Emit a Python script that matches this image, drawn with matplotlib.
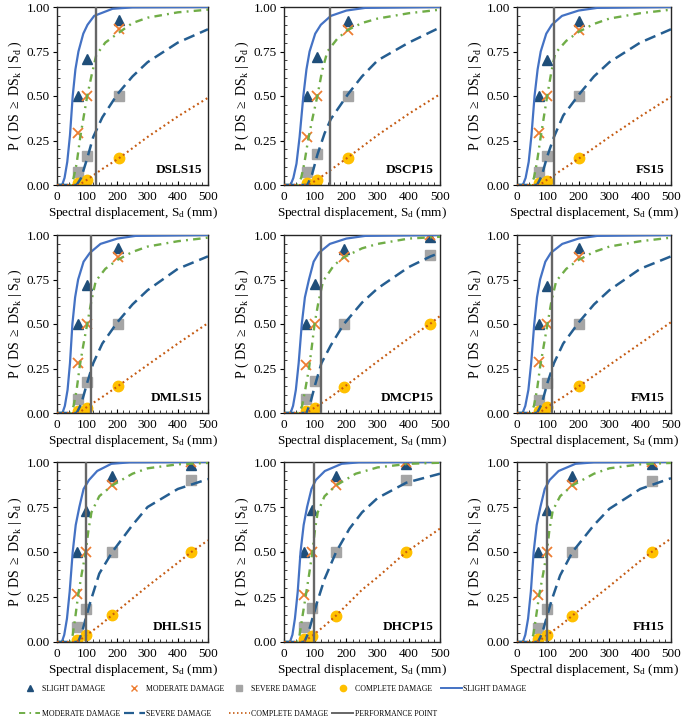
import matplotlib
matplotlib.use("Agg")
import matplotlib.pyplot as plt
from matplotlib.lines import Line2D
from matplotlib.ticker import MultipleLocator, FormatStrFormatter

plt.rcParams["font.family"] = ["Liberation Serif", "DejaVu Serif"]
plt.rcParams["mathtext.fontset"] = "custom"
plt.rcParams["mathtext.rm"] = "Liberation Serif"
plt.rcParams["mathtext.it"] = "Liberation Serif:italic"

PANEL_NAMES = ["DSLS15", "DSCP15", "FS15", "DMLS15", "DMCP15", "FM15", "DHLS15", "DHCP15", "FH15"]
PERFORMANCE_SD = [130, 147, 121, 114, 117, 115, 97, 97, 97]

# observed damage-state probabilities (markers)
MARKER_SD = [
    [70, 100, 205], [75, 107, 205], [70, 98, 202],
    [70, 100, 201], [70, 98, 192, 468], [70, 99, 201],
    [66, 95, 183, 445], [63, 91, 167, 392], [68, 97, 180, 437],
]
MARKER_SLIGHT = [
    [0.50, 0.71, 0.925], [0.50, 0.72, 0.92], [0.50, 0.70, 0.92],
    [0.50, 0.72, 0.925], [0.50, 0.725, 0.92, 0.99], [0.50, 0.715, 0.925],
    [0.50, 0.73, 0.92, 0.985], [0.50, 0.735, 0.92, 0.99], [0.50, 0.735, 0.92, 0.99],
]
MARKER_MODERATE = [
    [0.29, 0.50, 0.875], [0.27, 0.50, 0.87], [0.29, 0.50, 0.87],
    [0.28, 0.50, 0.875], [0.27, 0.50, 0.875, 1.0], [0.285, 0.50, 0.875],
    [0.265, 0.50, 0.875, 1.0], [0.26, 0.50, 0.875, 1.0], [0.26, 0.50, 0.87, 1.0],
]
MARKER_SEVERE = [
    [0.075, 0.165, 0.50], [0.075, 0.175, 0.50], [0.075, 0.165, 0.50],
    [0.08, 0.175, 0.50], [0.08, 0.18, 0.50, 0.89], [0.075, 0.17, 0.50],
    [0.085, 0.185, 0.50, 0.90], [0.083, 0.188, 0.50, 0.90], [0.08, 0.185, 0.50, 0.895],
]
MARKER_COMPLETE = [
    [0.012, 0.03, 0.15], [0.01, 0.03, 0.15], [0.01, 0.025, 0.15],
    [0.013, 0.03, 0.15], [0.01, 0.03, 0.145, 0.50], [0.01, 0.035, 0.15],
    [0.013, 0.037, 0.149, 0.50], [0.015, 0.033, 0.147, 0.50], [0.015, 0.038, 0.147, 0.50],
]

# fragility curves
SLIGHT_SD = [
    [0, 17, 25, 34, 43, 52, 61, 71, 87, 101, 123, 184, 250, 500],
    [0, 21, 30, 40, 50, 62, 72, 82, 100, 118, 150, 200, 260, 500],
    [0, 19, 28, 38, 47, 57, 67, 77, 95, 113, 146, 200, 260, 500],
    [0, 18, 26, 35, 43, 51, 60, 70, 88, 109, 144, 200, 260, 500],
    [0, 21, 29, 38, 47, 57, 67, 80, 95, 112, 147, 200, 260, 500],
    [0, 18, 27, 37, 46, 56, 65, 75, 92, 110, 147, 200, 260, 500],
    [0, 16, 24, 33, 42, 52, 62, 74, 88, 106, 133, 180, 240, 500],
    [0, 19, 27, 35, 44, 53, 63, 74, 88, 102, 131, 185, 240, 500],
    [0, 19, 27, 36, 45, 54, 64, 76, 90, 106, 135, 190, 250, 500],
]
SLIGHT_P = [
    [0, 0, 0.04, 0.13, 0.28, 0.50, 0.65, 0.75, 0.85, 0.90, 0.95, 0.99, 0.998, 1.0],
    [0, 0, 0.04, 0.12, 0.27, 0.50, 0.65, 0.75, 0.85, 0.90, 0.95, 0.98, 0.995, 1.0],
    [0, 0, 0.04, 0.13, 0.28, 0.50, 0.65, 0.75, 0.85, 0.90, 0.95, 0.98, 0.995, 1.0],
    [0, 0, 0.04, 0.13, 0.28, 0.50, 0.65, 0.75, 0.85, 0.90, 0.95, 0.98, 0.995, 1.0],
    [0, 0, 0.04, 0.13, 0.28, 0.50, 0.65, 0.75, 0.85, 0.90, 0.95, 0.98, 0.995, 1.0],
    [0, 0, 0.04, 0.13, 0.28, 0.50, 0.65, 0.75, 0.85, 0.90, 0.95, 0.98, 0.995, 1.0],
    [0, 0, 0.04, 0.13, 0.28, 0.50, 0.65, 0.75, 0.85, 0.90, 0.95, 0.99, 0.998, 1.0],
    [0, 0, 0.04, 0.13, 0.28, 0.50, 0.65, 0.75, 0.85, 0.90, 0.95, 0.99, 0.998, 1.0],
    [0, 0, 0.04, 0.13, 0.28, 0.50, 0.65, 0.75, 0.85, 0.90, 0.95, 0.99, 0.998, 1.0],
]
MODERATE_SD = [
    [0, 45, 55, 65, 77, 88, 100, 115, 130, 160, 200, 250, 300, 400, 500],
    [0, 43, 55, 65, 77, 92, 107, 122, 139, 170, 203, 250, 300, 400, 500],
    [0, 45, 55, 65, 76, 87, 98, 111, 124, 160, 200, 250, 300, 400, 500],
    [0, 45, 55, 65, 75, 87, 100, 114, 128, 160, 200, 250, 300, 400, 500],
    [0, 48, 58, 68, 80, 89, 98, 110, 125, 160, 192, 250, 300, 400, 500],
    [0, 45, 55, 65, 75, 87, 99, 112, 127, 160, 200, 250, 300, 400, 500],
    [0, 44, 52, 60, 70, 82, 95, 104, 114, 140, 183, 250, 300, 400, 500],
    [0, 42, 50, 58, 70, 80, 91, 99, 108, 130, 167, 230, 300, 400, 500],
    [0, 45, 53, 61, 72, 85, 97, 105, 116, 140, 180, 250, 300, 400, 500],
]
MODERATE_P = [
    [0, 0, 0.04, 0.12, 0.27, 0.38, 0.50, 0.62, 0.73, 0.80, 0.85, 0.91, 0.94, 0.97, 0.985],
    [0, 0, 0.04, 0.12, 0.25, 0.38, 0.50, 0.64, 0.75, 0.82, 0.87, 0.91, 0.935, 0.965, 0.985],
    [0, 0, 0.04, 0.13, 0.26, 0.38, 0.50, 0.63, 0.74, 0.81, 0.86, 0.905, 0.935, 0.965, 0.985],
    [0, 0, 0.04, 0.13, 0.26, 0.38, 0.50, 0.63, 0.74, 0.81, 0.86, 0.905, 0.935, 0.965, 0.985],
    [0, 0, 0.04, 0.13, 0.25, 0.37, 0.50, 0.62, 0.74, 0.83, 0.875, 0.925, 0.95, 0.98, 0.99],
    [0, 0, 0.04, 0.13, 0.26, 0.38, 0.50, 0.63, 0.74, 0.81, 0.86, 0.905, 0.935, 0.965, 0.985],
    [0, 0, 0.04, 0.13, 0.26, 0.38, 0.50, 0.62, 0.72, 0.81, 0.87, 0.935, 0.965, 0.987, 0.995],
    [0, 0, 0.04, 0.13, 0.26, 0.37, 0.50, 0.62, 0.72, 0.81, 0.87, 0.935, 0.97, 0.99, 0.996],
    [0, 0, 0.04, 0.13, 0.26, 0.38, 0.50, 0.62, 0.73, 0.81, 0.87, 0.935, 0.965, 0.987, 0.995],
]
SEVERE_SD = [
    [0, 65, 80, 100, 120, 150, 200, 250, 300, 400, 500],
    [0, 75, 90, 107, 130, 150, 205, 250, 300, 400, 500],
    [0, 65, 80, 98, 120, 150, 202, 250, 300, 400, 500],
    [0, 65, 80, 100, 120, 150, 200, 250, 300, 400, 500],
    [0, 72, 85, 100, 120, 150, 192, 250, 300, 400, 470, 500],
    [0, 65, 80, 99, 120, 150, 201, 250, 300, 400, 500],
    [0, 70, 82, 95, 110, 140, 183, 250, 300, 400, 500],
    [0, 65, 78, 91, 106, 130, 167, 210, 250, 300, 392, 500],
    [0, 68, 82, 97, 112, 140, 180, 250, 300, 400, 500],
]
SEVERE_P = [
    [0, 0, 0.04, 0.15, 0.27, 0.38, 0.51, 0.61, 0.69, 0.80, 0.875],
    [0, 0, 0.06, 0.17, 0.29, 0.37, 0.51, 0.61, 0.70, 0.80, 0.885],
    [0, 0, 0.05, 0.16, 0.27, 0.39, 0.51, 0.61, 0.69, 0.80, 0.875],
    [0, 0, 0.05, 0.17, 0.28, 0.39, 0.51, 0.61, 0.69, 0.81, 0.88],
    [0, 0, 0.06, 0.16, 0.28, 0.38, 0.50, 0.62, 0.70, 0.82, 0.88, 0.90],
    [0, 0, 0.05, 0.17, 0.28, 0.39, 0.51, 0.61, 0.69, 0.81, 0.88],
    [0, 0, 0.05, 0.13, 0.22, 0.38, 0.50, 0.65, 0.75, 0.85, 0.905],
    [0, 0, 0.05, 0.13, 0.22, 0.35, 0.50, 0.63, 0.72, 0.80, 0.885, 0.935],
    [0, 0, 0.05, 0.14, 0.23, 0.37, 0.50, 0.65, 0.74, 0.85, 0.91],
]
COMPLETE_SD = [
    [0, 70, 80, 100, 150, 205, 300, 400, 500],
    [0, 75, 85, 107, 150, 205, 300, 400, 500],
    [0, 70, 80, 98, 150, 202, 300, 400, 500],
    [0, 70, 80, 100, 150, 201, 300, 400, 500],
    [0, 70, 80, 98, 150, 192, 300, 400, 468, 500],
    [0, 70, 80, 99, 150, 201, 300, 400, 500],
    [0, 60, 75, 95, 140, 183, 300, 400, 445, 500],
    [0, 55, 70, 91, 130, 167, 250, 300, 392, 500],
    [0, 60, 75, 97, 140, 180, 300, 400, 437, 500],
]
COMPLETE_P = [
    [0, 0, 0.008, 0.03, 0.09, 0.15, 0.27, 0.385, 0.49],
    [0, 0, 0.008, 0.03, 0.085, 0.155, 0.28, 0.40, 0.51],
    [0, 0, 0.008, 0.03, 0.09, 0.15, 0.27, 0.385, 0.495],
    [0, 0, 0.01, 0.035, 0.09, 0.15, 0.27, 0.39, 0.505],
    [0, 0, 0.01, 0.03, 0.09, 0.145, 0.29, 0.42, 0.50, 0.545],
    [0, 0, 0.01, 0.035, 0.09, 0.15, 0.27, 0.39, 0.51],
    [0, 0, 0.01, 0.035, 0.09, 0.15, 0.31, 0.44, 0.50, 0.565],
    [0, 0, 0.01, 0.035, 0.09, 0.147, 0.29, 0.36, 0.50, 0.63],
    [0, 0, 0.01, 0.038, 0.09, 0.147, 0.31, 0.45, 0.50, 0.575],
]

C_TRI = "#1F4E79"
C_X = "#ED7D31"
C_SQ = "#A5A5A5"
C_CIR = "#FFC000"
C_SLIGHT = "#4472C4"
C_MOD = "#70AD47"
C_SEV = "#255E91"
C_COMP = "#C55A11"
C_PERF = "#666666"

LS_MOD = (0, (3.2, 2.2, 0.8, 2.2))
LS_SEV = (0, (4.5, 2.4))
LS_COMP = (0, (0.9, 1.5))

fig = plt.figure(figsize=(6.85, 7.21), dpi=100)

W, H = 685.0, 721.0
col_px = [(57, 151), (284, 156), (517, 154)]
row_px = [(7, 178), (235, 178), (462, 180)]

for i, name in enumerate(PANEL_NAMES):
    r, c = divmod(i, 3)
    left, width = col_px[c]
    top, height = row_px[r]
    ax = fig.add_axes([left / W, 1 - (top + height) / H, width / W, height / H])

    sd = MARKER_SD[i]
    ax.plot(sd, MARKER_SLIGHT[i], ls="none", marker="^", ms=7, color=C_TRI, zorder=2)
    ax.plot(sd, MARKER_MODERATE[i], ls="none", marker="x", ms=6.5, mew=1.3, color=C_X, zorder=2)
    ax.plot(sd, MARKER_SEVERE[i], ls="none", marker="s", ms=7, color=C_SQ, zorder=2)
    ax.plot(sd, MARKER_COMPLETE[i], ls="none", marker="o", ms=7.5, color=C_CIR, zorder=2)

    ax.plot(SLIGHT_SD[i], SLIGHT_P[i], color=C_SLIGHT, lw=1.6, zorder=3)
    ax.plot(MODERATE_SD[i], MODERATE_P[i], color=C_MOD, lw=1.7, ls=LS_MOD, zorder=3)
    ax.plot(SEVERE_SD[i], SEVERE_P[i], color=C_SEV, lw=1.8, ls=LS_SEV, zorder=3)
    ax.plot(COMPLETE_SD[i], COMPLETE_P[i], color=C_COMP, lw=1.5, ls=LS_COMP, zorder=3)
    ax.axvline(PERFORMANCE_SD[i], color=C_PERF, lw=1.7, zorder=4)

    ax.set_xlim(0, 500)
    ax.set_ylim(0, 1)
    ax.xaxis.set_major_locator(MultipleLocator(100))
    ax.xaxis.set_minor_locator(MultipleLocator(20))
    ax.yaxis.set_major_locator(MultipleLocator(0.25))
    ax.yaxis.set_minor_locator(MultipleLocator(0.05))
    ax.yaxis.set_major_formatter(FormatStrFormatter("%.2f"))
    ax.tick_params(axis="x", which="major", direction="in", length=3, labelsize=9.5, pad=4)
    ax.tick_params(axis="y", which="major", direction="out", length=3, labelsize=9.5, pad=2)
    ax.tick_params(which="minor", direction="in", length=2.5, width=0.7, color="#404040")
    for s in ax.spines.values():
        s.set_linewidth(1.0)
        s.set_color("#262626")

    ax.set_xlabel(r"Spectral displacement, S$_\mathrm{d}$ (mm)", fontsize=9.5, labelpad=2)
    ax.set_ylabel(r"P ( DS $\geq$ DS$_\mathrm{k}$ $|$ S$_\mathrm{d}$ )", fontsize=10, labelpad=2)
    ax.text(0.96, 0.05, name, transform=ax.transAxes, ha="right", va="bottom",
            fontsize=9.5, fontweight="bold", zorder=5)

handles = [
    Line2D([], [], ls="none", marker="^", ms=4.5, color=C_TRI),
    Line2D([], [], color=C_MOD, lw=1.4, ls=LS_MOD),
    Line2D([], [], ls="none", marker="x", ms=4.5, mew=1.0, color=C_X),
    Line2D([], [], color=C_SEV, lw=1.6, ls=LS_SEV),
    Line2D([], [], ls="none", marker="s", ms=4.5, color=C_SQ),
    Line2D([], [], color=C_COMP, lw=1.2, ls=LS_COMP),
    Line2D([], [], ls="none", marker="o", ms=4.5, color=C_CIR),
    Line2D([], [], color=C_PERF, lw=1.4),
    Line2D([], [], color=C_SLIGHT, lw=1.4),
]
labels = [
    "SLIGHT DAMAGE", "MODERATE DAMAGE", "MODERATE DAMAGE", "SEVERE DAMAGE",
    "SEVERE DAMAGE", "COMPLETE DAMAGE", "COMPLETE DAMAGE", "PERFORMANCE POINT",
    "SLIGHT DAMAGE",
]
fig.legend(handles, labels, ncol=5, loc="lower left", bbox_to_anchor=(0.02, -0.003),
           frameon=False, fontsize=5.6, handlelength=2.7, handletextpad=0.2,
           columnspacing=0.5, labelspacing=2.2, borderpad=0.2)

fig.savefig("out.png", dpi=100)
